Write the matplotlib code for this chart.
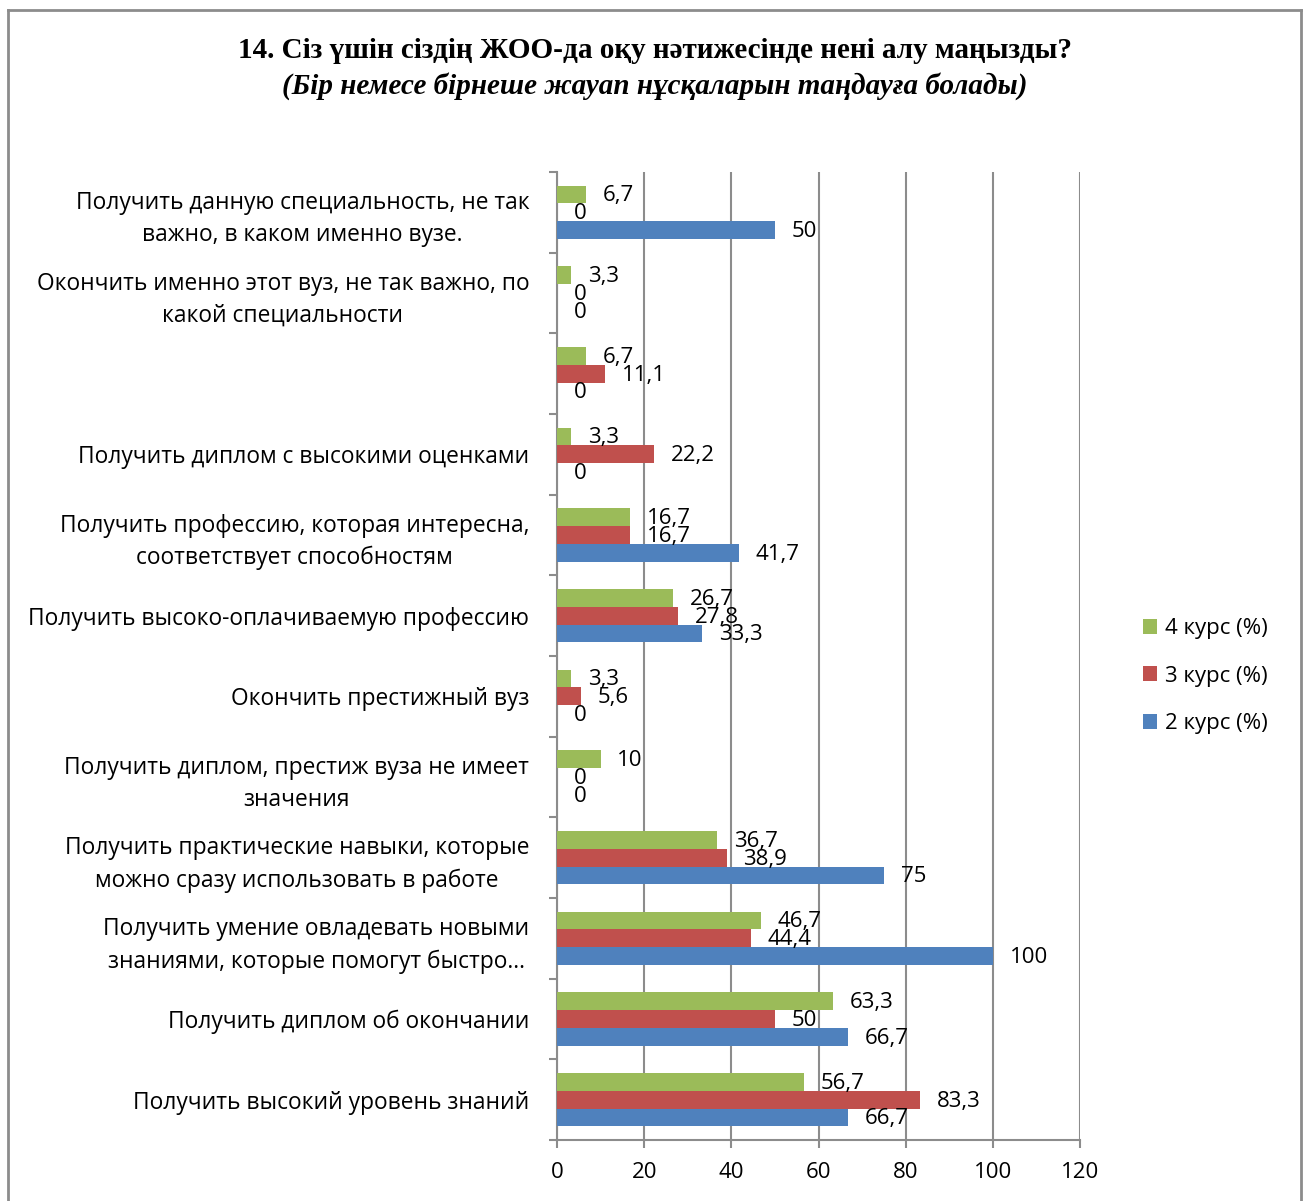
import matplotlib
matplotlib.use("Agg")
import matplotlib.pyplot as plt
from matplotlib.lines import Line2D
import numpy as np

categories = [
    "Получить данную специальность, не так\nважно, в каком именно вузе.",
    "Окончить именно этот вуз, не так важно, по\nкакой специальности",
    "",
    "Получить диплом с высокими оценками",
    "Получить профессию, которая интересна,\nсоответствует способностям",
    "Получить высоко-оплачиваемую профессию",
    "Окончить престижный вуз",
    "Получить диплом, престиж вуза не имеет\nзначения",
    "Получить практические навыки, которые\nможно сразу использовать в работе",
    "Получить умение овладевать новыми\nзнаниями, которые помогут быстро…",
    "Получить диплом об окончании",
    "Получить высокий уровень знаний",
]
series_names = ["4 курс (%)", "3 курс (%)", "2 курс (%)"]
kurs4 = [6.7, 3.3, 6.7, 3.3, 16.7, 26.7, 3.3, 10, 36.7, 46.7, 63.3, 56.7]
kurs3 = [0, 0, 11.1, 22.2, 16.7, 27.8, 5.6, 0, 38.9, 44.4, 50, 83.3]
kurs2 = [50, 0, 0, 0, 41.7, 33.3, 0, 0, 75, 100, 66.7, 66.7]
colors = ["#9BBB59", "#C0504D", "#4F81BD"]
xticks = [0, 20, 40, 60, 80, 100, 120]

title1 = "14. Сіз үшін сіздің ЖОО-да оқу нәтижесінде нені алу маңызды?"
title2 = "(Бір немесе бірнеше жауап нұсқаларын таңдауға болады)"

W, H = 1307, 1201
fig = plt.figure(figsize=(W / 100, H / 100), dpi=100)
font = "Open Sans"
fs = 16
ax = fig.add_axes([557 / W, 1 - 1140 / H, (1080 - 557) / W, (1140 - 172) / H])

n = len(categories)
y = np.arange(n)
h = 0.22
gray = "#8C8C8C"

for k, (vals, col) in enumerate(zip([kurs4, kurs3, kurs2], colors)):
    pos = y + (k - 1) * h
    ax.barh(pos, vals, height=h, color=col, label=series_names[k], zorder=3)
    for p, v in zip(pos, vals):
        txt = f"{v:g}".replace(".", ",")
        ax.annotate(txt, (v, p), xytext=(12, -1), textcoords="offset points",
                    ha="left", va="center", fontsize=fs, family=font, zorder=4)

ax.set_xlim(0, 120)
ax.set_ylim(n - 0.5, -0.5)
ax.set_xticks(xticks)
ax.set_xticklabels([str(t) for t in xticks], fontsize=fs, family=font)
ax.set_yticks(y)
ax.set_yticklabels(categories, fontsize=16.4, family=font, multialignment="center",
                   linespacing=1.45)
ax.tick_params(axis="y", length=0, pad=20)
ax.set_yticks(np.arange(-0.5, n, 1), minor=True)
ax.tick_params(axis="y", which="minor", length=6, color=gray, width=1.5, direction="out")
ax.tick_params(axis="x", length=6, color=gray, width=1.5, direction="out", pad=10)
ax.grid(axis="x", color=gray, linewidth=1.5, zorder=0)
for s in ["top", "right"]:
    ax.spines[s].set_visible(False)
for s in ["left", "bottom"]:
    ax.spines[s].set_color(gray)
    ax.spines[s].set_linewidth(1.5)

leg = fig.legend(loc="upper left", bbox_to_anchor=(1123 / W, 1 - 598 / H),
                 frameon=False, prop={"family": font, "size": fs},
                 handlelength=0.65, handleheight=0.65, handletextpad=0.35,
                 labelspacing=1.2)

fig.text(0.5008, 1 - 51 / H, title1, ha="center", va="center", fontsize=21,
         family="Liberation Serif", weight="bold")
fig.text(0.5008, 1 - 86 / H, title2, ha="center", va="center", fontsize=21,
         family="Liberation Serif", weight="bold", style="italic")

for xs, ys in [([8 / W, 8 / W], [0, 1 - 10 / H]), ([8 / W, 1301 / W], [1 - 10 / H, 1 - 10 / H]),
               ([1301 / W, 1301 / W], [1 - 10 / H, 0])]:
    fig.add_artist(Line2D(xs, ys, transform=fig.transFigure, color=gray, linewidth=2))

fig.savefig("out.png", dpi=100)
